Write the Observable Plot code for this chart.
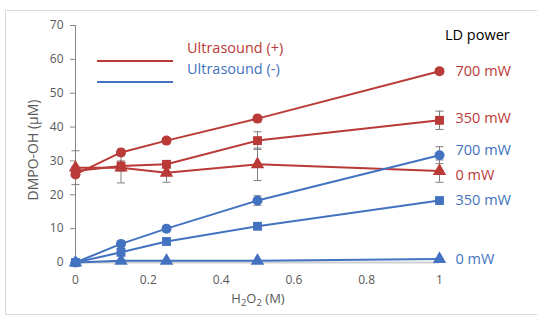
<!DOCTYPE html>
<html><head><meta charset="utf-8">
<script src="https://cdn.jsdelivr.net/npm/d3@7"></script>
<script src="https://cdn.jsdelivr.net/npm/@observablehq/plot@0.6"></script>
<style>
body{margin:0;background:#fff;font-family:"Open Sans",sans-serif;}
#wrap{position:relative;width:537px;height:325px;overflow:hidden;}
#frame{position:absolute;left:5px;top:10px;width:560px;height:305px;border:1px solid #d9d9d9;box-sizing:border-box;}
.abs{position:absolute;white-space:nowrap;line-height:1;}
</style></head>
<body><div id="wrap"><div id="frame"></div></div>
<script>
const h2o2 = [0, 0.125, 0.25, 0.5, 1];
const seriesNames = ["Ultrasound (+) 700 mW","Ultrasound (+) 350 mW","Ultrasound (+) 0 mW","Ultrasound (-) 700 mW","Ultrasound (-) 350 mW","Ultrasound (-) 0 mW"];
const powerLabels = ["700 mW","350 mW","0 mW","700 mW","350 mW","0 mW"];
const ultrasound = ["+","+","+","-","-","-"];
const symbols = ["circle","square","triangle","circle","square","triangle"];
const red700 = [26, 32.5, 36, 42.5, 56.5];
const red350 = [27, 28.5, 29, 36, 42];
const red0   = [28, 28, 26.5, 29, 27];
const blue700 = [0, 5.5, 10, 18.3, 31.7];
const blue350 = [0, 3, 6.2, 10.7, 18.3];
const blue0   = [0, 0.5, 0.5, 0.5, 1];
const errRed700 = [0.5, 1, 0.8, 1, 0.8];
const errRed350 = [1, 1.5, 1, 2.6, 2.7];
const errRed0   = [5, 4.5, 2.8, 4.8, 3.3];
const errBlue700 = [0, 0.8, 0.7, 1.4, 2.5];
const errBlue350 = [0, 0.5, 0.8, 0.7, 0.5];
const errBlue0   = [0, 0.2, 0.2, 0.2, 0.3];
const yTicks = [0,10,20,30,40,50,60,70];
const xTicks = [0,0.2,0.4,0.6,0.8,1];

const RED = "#b93a37", BLUE = "#4373c0";
const values = [red700, red350, red0, blue700, blue350, blue0];
const errs = [errRed700, errRed350, errRed0, errBlue700, errBlue350, errBlue0];
const rows = [];
values.forEach((vals, s) => vals.forEach((v, i) => rows.push({
  series: seriesNames[s], us: ultrasound[s], sym: symbols[s], x: h2o2[i], y: v,
  lo: v - errs[s][i], hi: v + errs[s][i], err: errs[s][i]
})));
const ends = values.map((vals, s) => ({label: powerLabels[s], us: ultrasound[s], x: h2o2[h2o2.length-1], y: vals[vals.length-1]}));
const labelDy = [0, -2, 4, -5, 0, 0];

const cap = {draw(ctx, size){ const w = 4; ctx.moveTo(-w,0); ctx.lineTo(w,0); }};
const color = d => d.us === "+" ? RED : BLUE;
const withErr = rows.filter(d => d.err > 0);

const plot = Plot.plot({
  width: 537, height: 325,
  marginLeft: 75, marginRight: 98, marginTop: 25, marginBottom: 63,
  style: {fontFamily: "'Open Sans', sans-serif", background: "transparent", overflow: "visible"},
  x: {domain: [0, 1]},
  y: {domain: [0, 70]},
  marks: [
    Plot.ruleY([0], {stroke: "#d0d0d0", strokeWidth: 2}),
    Plot.axisX({ticks: xTicks, tickSize: 0, tickPadding: 13, fontSize: 12, fill: "#595959", label: null, tickFormat: d => String(d)}),
    Plot.ruleX([0], {stroke: "#868686", strokeWidth: 1}),
    Plot.axisY({ticks: yTicks, tickSize: 5, tickPadding: 7, stroke: "#868686", fontSize: 12, fill: "#595959", label: null}),
    Plot.line(rows, {x: "x", y: "y", z: "series", stroke: color, strokeWidth: 2}),
    Plot.ruleX(withErr, {x: "x", y1: "lo", y2: "hi", stroke: "#7f7f7f", strokeWidth: 1}),
    Plot.dot(withErr, {x: "x", y: "lo", symbol: cap, stroke: "#7f7f7f", strokeWidth: 1}),
    Plot.dot(withErr, {x: "x", y: "hi", symbol: cap, stroke: "#7f7f7f", strokeWidth: 1}),
    Plot.dot(rows, {x: "x", y: "y", symbol: "sym", fill: color, stroke: "none", r: 5}),
    ...ends.map((d, s) => Plot.text([d], {x: "x", y: "y", text: "label", fill: color, dx: 16, dy: labelDy[s], textAnchor: "start", fontSize: 14.5}))
  ]
});
plot.style.position = "absolute"; plot.style.left = "0px"; plot.style.top = "0px";
const wrap = document.getElementById("wrap");
wrap.appendChild(plot);

function add(html, css){ const d = document.createElement("div"); d.className = "abs"; d.innerHTML = html; Object.assign(d.style, css); wrap.appendChild(d); return d; }
// legend
[["Ultrasound (+)", RED, 51], ["Ultrasound (-)", BLUE, 72]].forEach(([t, c, y]) => {
  add(`<svg width="76" height="4"><line x1="0" x2="76" y1="2" y2="2" stroke="${c}" stroke-width="2"/></svg>`, {left: "97px", top: (y-2)+"px"});
  add(t, {left: "187px", top: (y-10)+"px", color: c, fontSize: "14.5px"});
});
add("LD power", {left: "445px", top: "28px", color: "#000", fontSize: "14.5px"});
add("DMPO-OH (μM)", {left: "33px", top: "150px", color: "#595959", fontSize: "14px", transform: "translate(-50%,-50%) rotate(-90deg)"});
add("H<sub style='font-size:9.5px;vertical-align:-3px'>2</sub>O<sub style='font-size:9.5px;vertical-align:-3px'>2</sub> (M)", {left: "258px", top: "300px", color: "#595959", fontSize: "13px", transform: "translate(-50%,-50%)"});
</script></body></html>
